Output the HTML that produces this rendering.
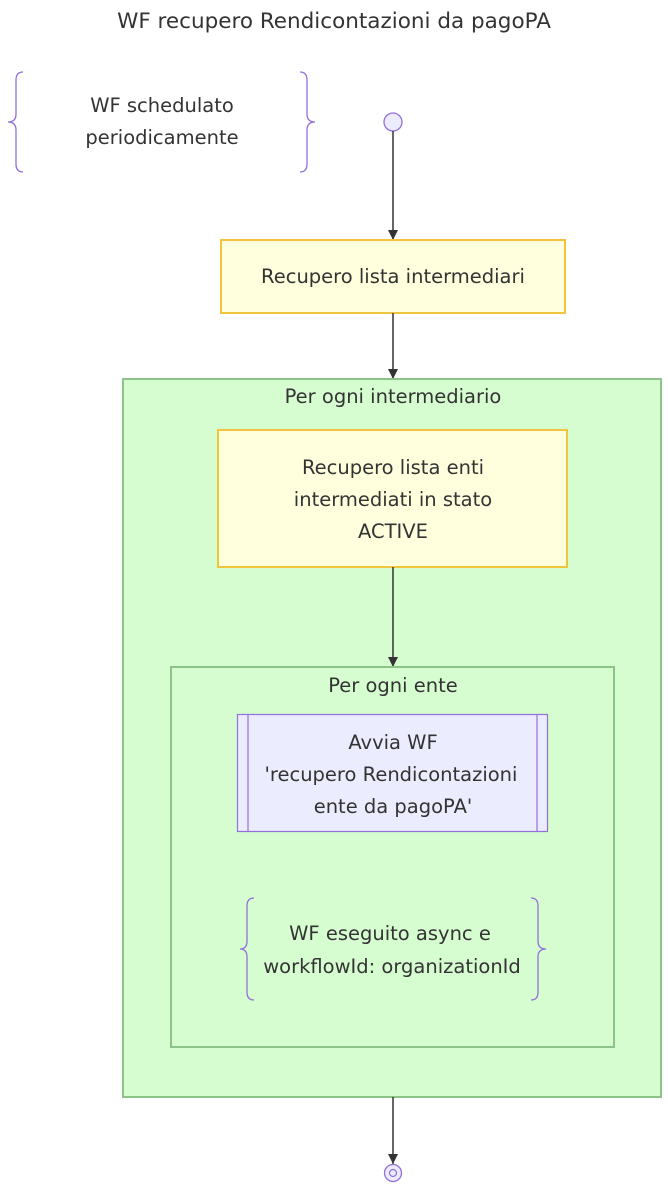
<!DOCTYPE html>
<html><head><meta charset="utf-8"><style>
html,body{margin:0;padding:0;background:#fff;}
svg text{font-family:"DejaVu Sans","Liberation Sans",sans-serif;fill:#333;font-size:19.5px;}
svg text.t{font-size:21.5px;}
</style></head><body>
<svg width="668" height="1186" viewBox="0 0 668 1186" xmlns="http://www.w3.org/2000/svg">
<defs><marker id="a" markerWidth="10" markerHeight="10" refX="10" refY="5" orient="auto" markerUnits="userSpaceOnUse"><path d="M0,0 L10,5 L0,10 z" fill="#333"/></marker></defs>
<text class="t" x="334" y="28" text-anchor="middle">WF recupero Rendicontazioni da pagoPA</text>
<path d="M23,72 Q16,72 16,80 L16,114 Q16,122 8,122 Q16,122 16,130 L16,164 Q16,172 23,172" fill="none" stroke="#9370DB" stroke-width="1.3"/>
<path d="M300,72 Q307,72 307,80 L307,114 Q307,122 315,122 Q307,122 307,130 L307,164 Q307,172 300,172" fill="none" stroke="#9370DB" stroke-width="1.3"/>
<text x="162" y="112" text-anchor="middle">WF schedulato</text>
<text x="162" y="144" text-anchor="middle">periodicamente</text>
<circle cx="393" cy="122" r="9" fill="#ECECFF" stroke="#9370DB" stroke-width="1.3"/>
<line x1="393" y1="131" x2="393" y2="240" stroke="#333" stroke-width="1.5" marker-end="url(#a)"/>
<rect x="221" y="240" width="344" height="73" fill="#FFFFDE" stroke="#F0C43C" stroke-width="2"/>
<text x="393" y="283" text-anchor="middle">Recupero lista intermediari</text>
<line x1="393" y1="313" x2="393" y2="379" stroke="#333" stroke-width="1.5" marker-end="url(#a)"/>
<rect x="123" y="379" width="538" height="718" fill="#D6FDD0" stroke="#8CC488" stroke-width="2"/>
<text x="393" y="403" text-anchor="middle">Per ogni intermediario</text>
<rect x="218" y="430" width="349" height="137" fill="#FFFFDE" stroke="#F0C43C" stroke-width="2"/>
<text x="393" y="474" text-anchor="middle">Recupero lista enti</text>
<text x="393" y="506" text-anchor="middle">intermediati in stato</text>
<text x="393" y="538" text-anchor="middle">ACTIVE</text>
<line x1="393" y1="567" x2="393" y2="667" stroke="#333" stroke-width="1.5" marker-end="url(#a)"/>
<rect x="171" y="667" width="443" height="380" fill="#D6FDD0" stroke="#8CC488" stroke-width="2"/>
<text x="393" y="692" text-anchor="middle">Per ogni ente</text>
<rect x="237.5" y="714.5" width="310" height="117" fill="#ECECFF" stroke="#9370DB" stroke-width="1.2"/>
<line x1="248" y1="714.5" x2="248" y2="831.5" stroke="#9370DB" stroke-width="1.2"/>
<line x1="537" y1="714.5" x2="537" y2="831.5" stroke="#9370DB" stroke-width="1.2"/>
<text x="393" y="749" text-anchor="middle">Avvia WF</text>
<text x="391" y="781" text-anchor="middle">'recupero Rendicontazioni</text>
<text x="393" y="813" text-anchor="middle">ente da pagoPA'</text>
<path d="M254,898 Q247,898 247,906 L247,941 Q247,949 240,949 Q247,949 247,957 L247,992 Q247,1000 254,1000" fill="none" stroke="#9370DB" stroke-width="1.3"/>
<path d="M531,898 Q538,898 538,906 L538,941 Q538,949 546,949 Q538,949 538,957 L538,992 Q538,1000 531,1000" fill="none" stroke="#9370DB" stroke-width="1.3"/>
<text x="390" y="940" text-anchor="middle">WF eseguito async e</text>
<text x="392" y="973" text-anchor="middle">workflowId: organizationId</text>
<line x1="393" y1="1097" x2="393" y2="1164" stroke="#333" stroke-width="1.5" marker-end="url(#a)"/>
<circle cx="393" cy="1173" r="8.5" fill="#ECECFF" stroke="#9370DB" stroke-width="1.3"/>
<circle cx="393" cy="1173" r="3.5" fill="none" stroke="#9370DB" stroke-width="1.2"/>
</svg>
</body></html>
